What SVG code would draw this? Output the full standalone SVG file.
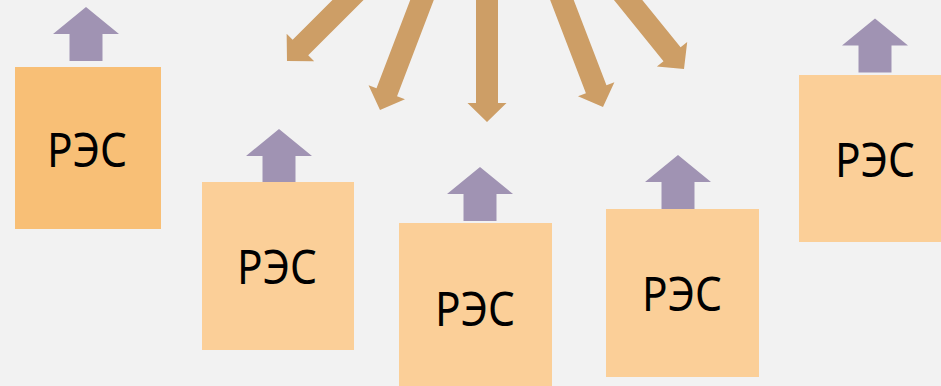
<svg xmlns="http://www.w3.org/2000/svg" width="941" height="386" viewBox="0 0 941 386">
<defs>
<style>
.box{fill:#fbcf98}
.box1{fill:#f8bf76}
.up{fill:#a093b3}
.down{fill:#cd9e66}
.lbl{font-family:"Noto Sans","Open Sans","DejaVu Sans",sans-serif;font-size:47px;fill:#000;text-anchor:middle}
</style>
<polygon id="upArrow" points="0,0 33,27 16.5,27 16.5,54 -16.5,54 -16.5,27 -33,27"/>
<polygon id="downArrow" points="0,0 19.5,-19 11,-19 11,-220 -11,-220 -11,-19 -19.5,-19"/>
</defs>
<rect width="941" height="386" fill="#f2f2f2"/>
<g id="connectors">
<use href="#downArrow" class="down" transform="translate(287,61) rotate(45)"/>
<use href="#downArrow" class="down" transform="translate(380,110) rotate(20.9)"/>
<use href="#downArrow" class="down" transform="translate(487,122)"/>
<use href="#downArrow" class="down" transform="translate(603,107) rotate(-21)"/>
<use href="#downArrow" class="down" transform="translate(684,69) rotate(-39)"/>
</g>
<g id="node1">
<use href="#upArrow" class="up" transform="translate(86,7)"/>
<rect class="box1" x="15" y="67" width="146" height="162"/>
<text class="lbl" x="87" y="167" textLength="80" lengthAdjust="spacingAndGlyphs">РЭС</text>
</g>
<g id="node2">
<use href="#upArrow" class="up" transform="translate(279,129)"/>
<rect class="box" x="202" y="182" width="152" height="168"/>
<text class="lbl" x="277" y="284" textLength="80" lengthAdjust="spacingAndGlyphs">РЭС</text>
</g>
<g id="node3">
<use href="#upArrow" class="up" transform="translate(480,167)"/>
<rect class="box" x="399" y="223" width="153" height="168"/>
<text class="lbl" x="475" y="326" textLength="80" lengthAdjust="spacingAndGlyphs">РЭС</text>
</g>
<g id="node4">
<use href="#upArrow" class="up" transform="translate(678,155)"/>
<rect class="box" x="606" y="209" width="153" height="168"/>
<text class="lbl" x="682" y="311" textLength="80" lengthAdjust="spacingAndGlyphs">РЭС</text>
</g>
<g id="node5">
<use href="#upArrow" class="up" transform="translate(875,18.5)"/>
<rect class="box" x="799" y="75" width="152" height="167"/>
<text class="lbl" x="875" y="177" textLength="80" lengthAdjust="spacingAndGlyphs">РЭС</text>
</g>
</svg>
